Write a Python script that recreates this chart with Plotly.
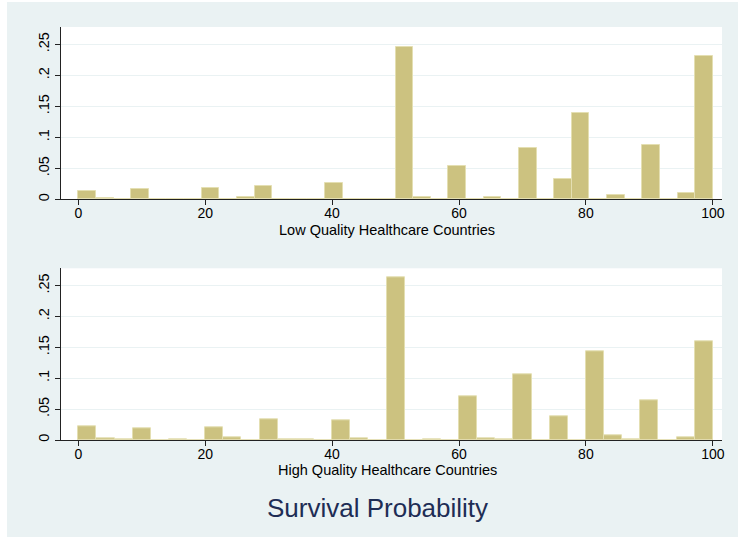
import plotly.graph_objects as go

# ---- data (fraction of countries per bin) ----
x_min, x_max = 0, 100
low_bins = 36
low_fraction = [0.014, 0.002, 0.0, 0.0166, 0.0, 0.001, 0.0, 0.018, 0.0, 0.0037,
                0.0215, 0.001, 0.001, 0.0, 0.0263, 0.001, 0.0, 0.0, 0.245, 0.003,
                0.0, 0.0537, 0.0, 0.003, 0.001, 0.0827, 0.0, 0.0327, 0.1397, 0.0,
                0.007, 0.0, 0.0876, 0.0, 0.0097, 0.231]
high_bins = 35
high_fraction = [0.0215, 0.0032, 0.001, 0.0188, 0.0, 0.0015, 0.0, 0.0199, 0.0048, 0.0,
                 0.0339, 0.001, 0.001, 0.0, 0.0312, 0.002, 0.0, 0.263, 0.0, 0.001,
                 0.0, 0.070, 0.003, 0.0008, 0.1065, 0.0, 0.038, 0.0, 0.144, 0.0075,
                 0.001, 0.065, 0.0, 0.0043, 0.160]
x_ticks = [0, 20, 40, 60, 80, 100]
y_ticks = [0, 0.05, 0.1, 0.15, 0.2, 0.25]
y_ticklabels = ["0", ".05", ".1", ".15", ".2", ".25"]
panel_titles = ["Low Quality Healthcare Countries", "High Quality Healthcare Countries"]
main_title = "Survival Probability"

BAR_FILL = "rgb(204,194,128)"
BAR_LINE = "rgb(228,223,178)"
BG = "rgb(234,242,243)"
FONT = "Liberation Sans, Arial, sans-serif"


def bin_geometry(n):
    w = (x_max - x_min) / n
    centers = [x_min + w * (i + 0.5) for i in range(n)]
    return centers, w


fig = go.Figure()
for k, (n, vals) in enumerate([(low_bins, low_fraction), (high_bins, high_fraction)]):
    centers, w = bin_geometry(n)
    fig.add_trace(go.Bar(
        x=centers, y=vals, width=w,
        marker=dict(color=BAR_FILL, line=dict(color=BAR_LINE, width=1)),
        xaxis="x" if k == 0 else "x2", yaxis="y" if k == 0 else "y2",
        showlegend=False, hoverinfo="x+y",
    ))

W, H = 738, 537
ml, mr, mt, mb = 61, 16, 27, 97
pw, ph = W - ml - mr, H - mt - mb


def yfrac(py):
    return (H - mb - py) / ph


def xfrac(px):
    return (px - ml) / pw


xaxis_common = dict(
    range=[-2.73, 101.45], tickvals=x_ticks, ticks="outside", ticklen=5,
    tickcolor="#222", showline=True, linecolor="#222", linewidth=1,
    showgrid=False, zeroline=False, tickfont=dict(size=14, color="black", family=FONT),
    ticklabelstandoff=-4,
)
yaxis_common = dict(
    range=[0, 0.278], tickvals=y_ticks, ticktext=y_ticklabels, ticks="outside",
    ticklen=5, tickcolor="#222", tickangle=-90, showline=True, linecolor="#222",
    linewidth=1, showgrid=True, gridcolor=BG, gridwidth=1, zeroline=False,
    tickfont=dict(size=14.5, color="black", family=FONT),
)

title_font = dict(size=14.5, color="black", family=FONT)
fig.update_layout(
    width=W, height=H, autosize=False,
    margin=dict(l=ml, r=mr, t=mt, b=mb, pad=0),
    paper_bgcolor=BG, plot_bgcolor="white",
    bargap=0,
    xaxis=dict(domain=[0, 1], anchor="y", **xaxis_common),
    yaxis=dict(domain=[yfrac(199.3), yfrac(27)], anchor="x", **yaxis_common),
    xaxis2=dict(domain=[0, 1], anchor="y2", **xaxis_common),
    yaxis2=dict(domain=[0, yfrac(268.3)], anchor="x2", **yaxis_common),
    annotations=[
        dict(text=panel_titles[0], xref="paper", yref="paper", x=xfrac(387), y=yfrac(229.5),
             xanchor="center", yanchor="middle", showarrow=False, font=title_font),
        dict(text=panel_titles[1], xref="paper", yref="paper", x=xfrac(387), y=yfrac(469.5),
             xanchor="center", yanchor="middle", showarrow=False, font=title_font),
        dict(text=main_title, xref="paper", yref="paper", x=xfrac(377.5), y=yfrac(508),
             xanchor="center", yanchor="middle", showarrow=False,
             font=dict(size=26, color="rgb(30,45,85)", family=FONT)),
    ],
    shapes=[
        dict(type="rect", xref="paper", yref="paper", x0=xfrac(-2), x1=xfrac(7),
             y0=yfrac(H + 2), y1=yfrac(-2), fillcolor="white", line=dict(width=0), layer="below"),
        dict(type="rect", xref="paper", yref="paper", x0=xfrac(-2), x1=xfrac(W + 2),
             y0=yfrac(2), y1=yfrac(-2), fillcolor="white", line=dict(width=0), layer="below"),
    ],
    font=dict(family=FONT),
)

fig.write_html("out.html", config={"displayModeBar": False},
               post_script="document.body.style.margin='0px';document.body.style.overflow='hidden';")
